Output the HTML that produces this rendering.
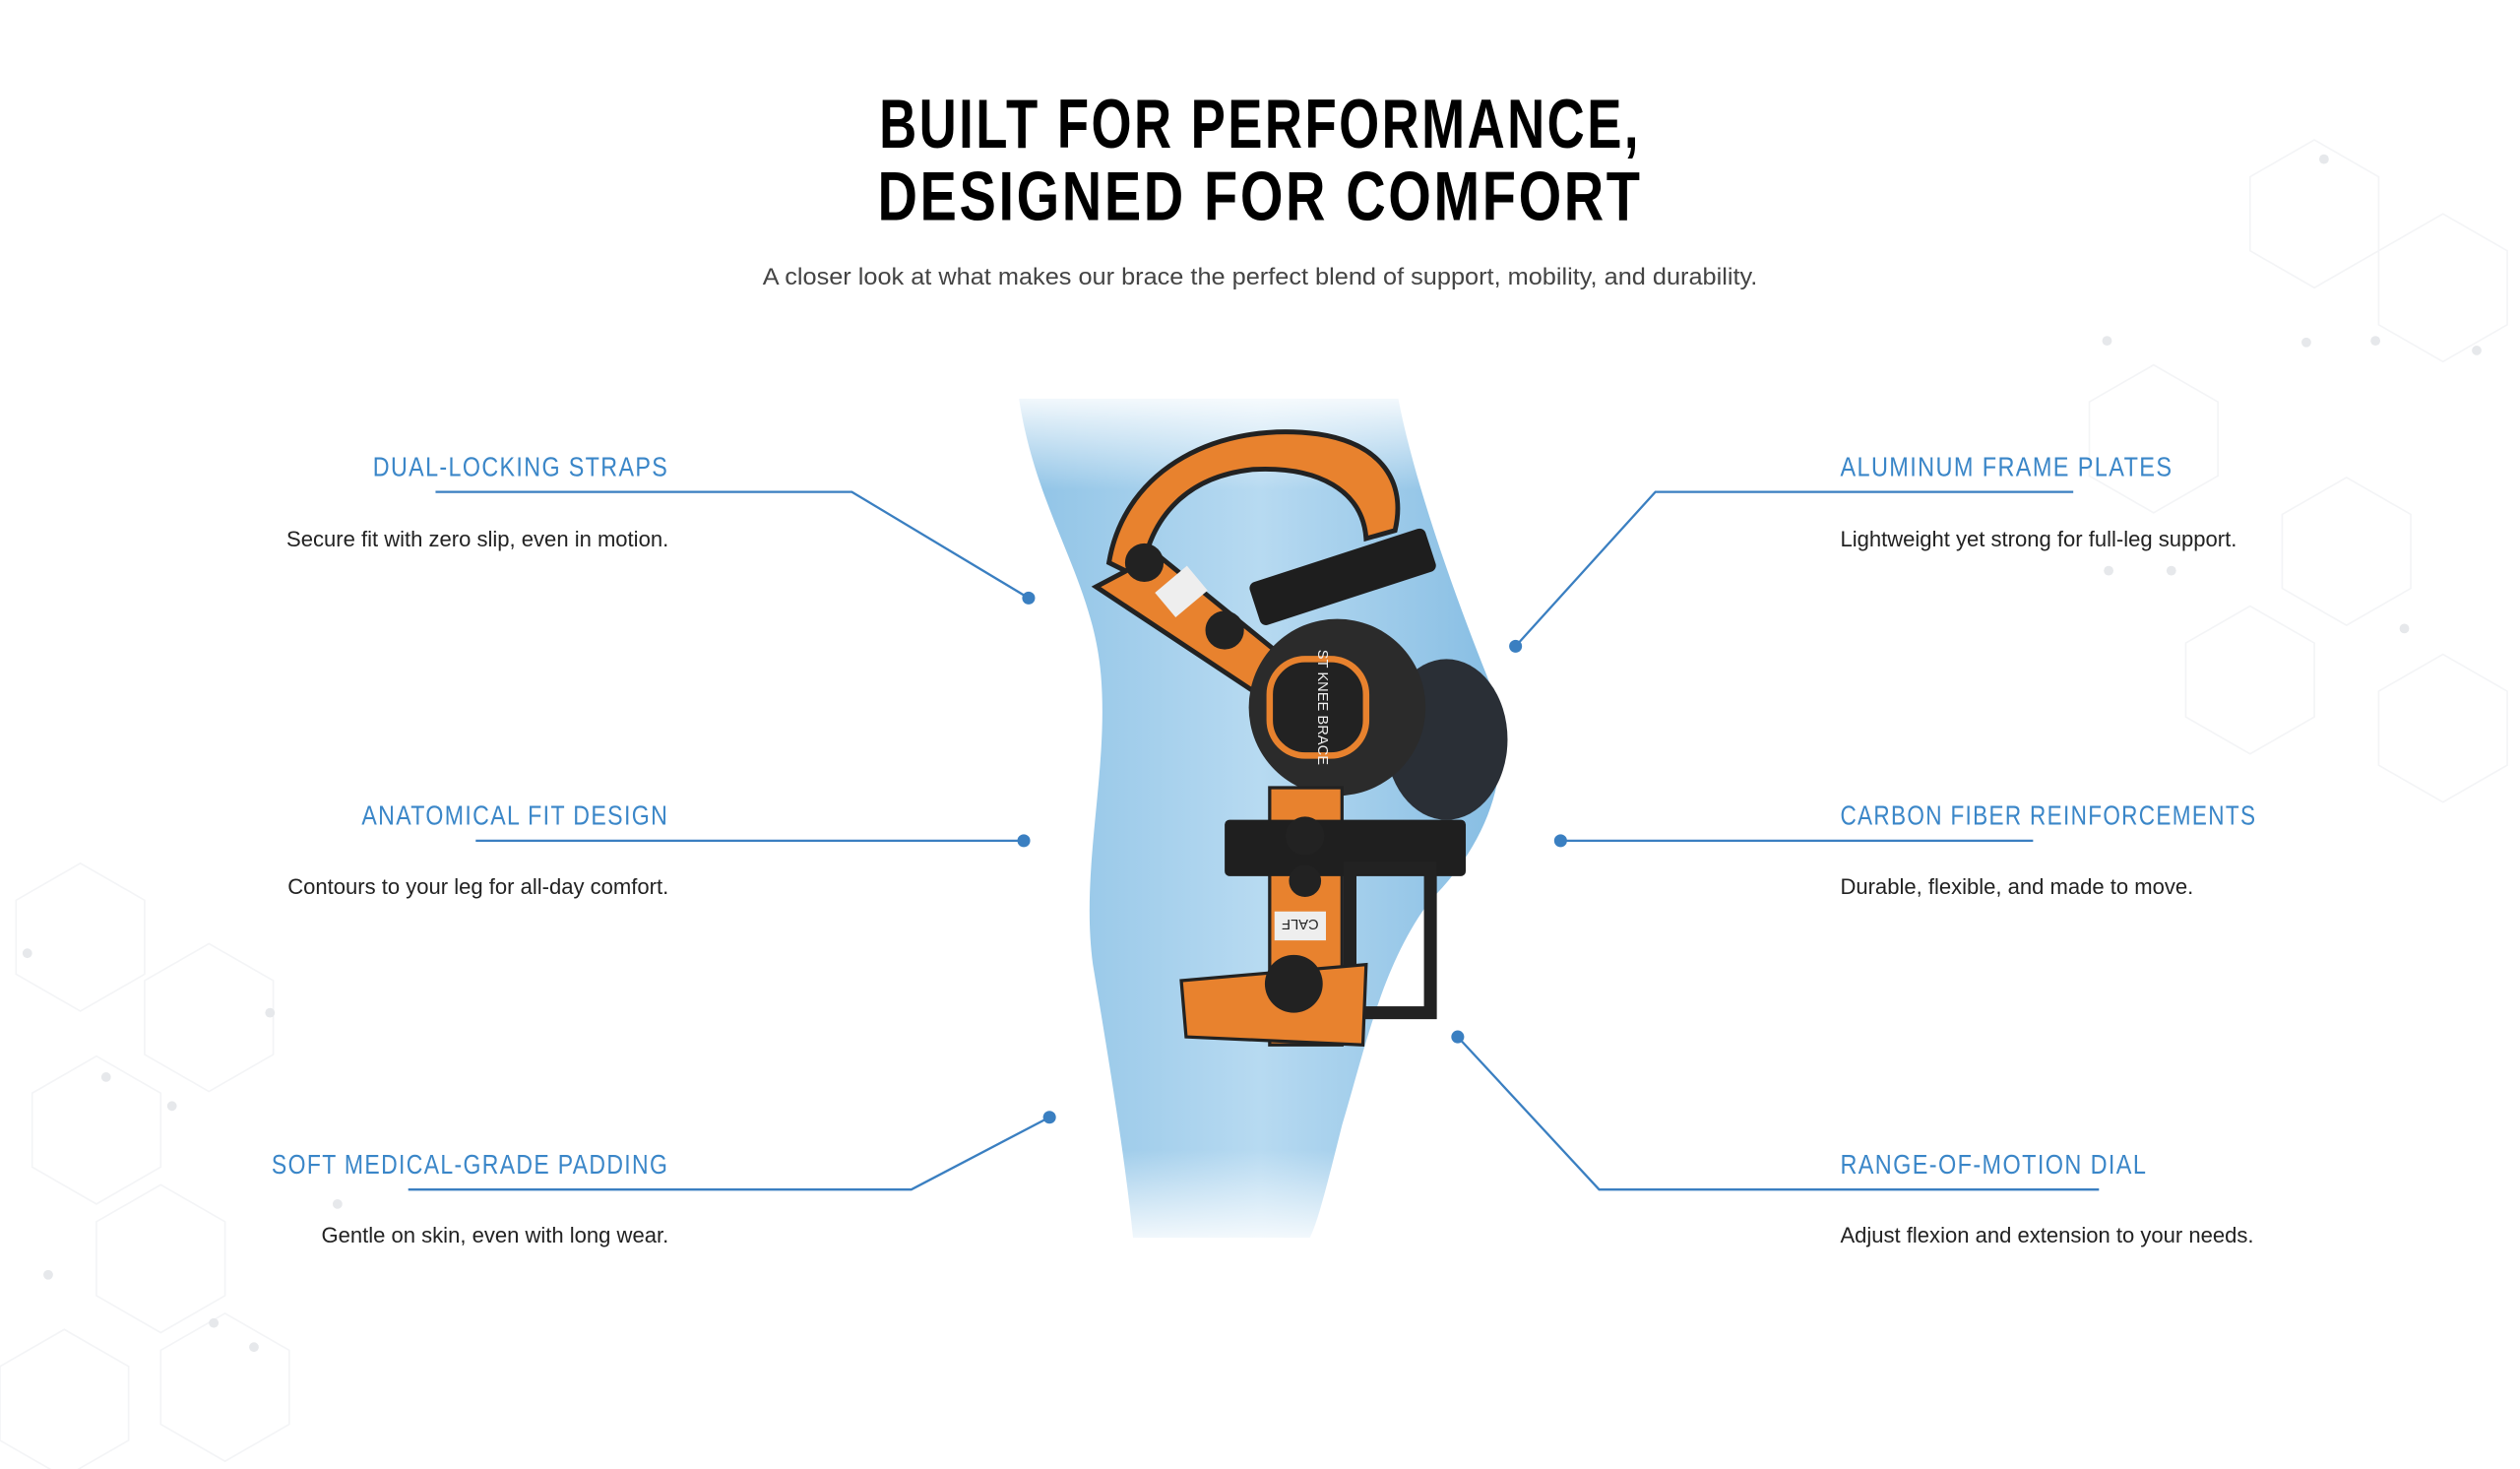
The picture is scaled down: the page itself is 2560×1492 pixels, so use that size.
<!DOCTYPE html>
<html><head><meta charset="utf-8"><style>
html,body{margin:0;padding:0;background:#fff;}
svg{display:block}
.h{font-family:"Liberation Sans",sans-serif;font-size:17px;fill:#3a86c8;letter-spacing:1px}
.d{font-family:"Liberation Sans",sans-serif;font-size:13.5px;fill:#222}
</style></head><body>
<svg width="2560" height="1492" viewBox="0 0 2560 1492" xmlns="http://www.w3.org/2000/svg">
<defs>
<linearGradient id="leg" x1="0" y1="0" x2="1" y2="0">
<stop offset="0" stop-color="#8fc3e6"/><stop offset="0.5" stop-color="#b7daf1"/><stop offset="1" stop-color="#86bde3"/></linearGradient>
<linearGradient id="fade" x1="0" y1="0" x2="0" y2="1">
<stop offset="0" stop-color="#fff" stop-opacity="1"/><stop offset="0.12" stop-color="#fff" stop-opacity="0"/><stop offset="0.88" stop-color="#fff" stop-opacity="0"/><stop offset="1" stop-color="#fff" stop-opacity="1"/></linearGradient>
</defs>
<g transform="scale(1.6327)">
<g stroke="#f3f4f6" fill="none" stroke-width="1">
<path d="M1400 110 l40 -23 l40 23 v46 l-40 23 l-40 -23z M1480 156 l40 -23 l40 23 v46 l-40 23 l-40 -23z M1300 250 l40 -23 l40 23 v46 l-40 23 l-40 -23z M1420 320 l40 -23 l40 23 v46 l-40 23 l-40 -23z M1480 430 l40 -23 l40 23 v46 l-40 23 l-40 -23z M1360 400 l40 -23 l40 23 v46 l-40 23 l-40 -23z"/>
<path d="M10 560 l40 -23 l40 23 v46 l-40 23 l-40 -23z M90 610 l40 -23 l40 23 v46 l-40 23 l-40 -23z M20 680 l40 -23 l40 23 v46 l-40 23 l-40 -23z M60 760 l40 -23 l40 23 v46 l-40 23 l-40 -23z M100 840 l40 -23 l40 23 v46 l-40 23 l-40 -23z M0 850 l40 -23 l40 23 v46 l-40 23 l-40 -23z"/>
</g>
<g fill="#e6e8eb">
<circle cx="1446" cy="99" r="3"/><circle cx="1311" cy="212" r="3"/><circle cx="1435" cy="213" r="3"/><circle cx="1478" cy="212" r="3"/><circle cx="1541" cy="218" r="3"/><circle cx="1312" cy="355" r="3"/><circle cx="1351" cy="355" r="3"/><circle cx="1496" cy="391" r="3"/>
<circle cx="17" cy="593" r="3"/><circle cx="168" cy="630" r="3"/><circle cx="66" cy="670" r="3"/><circle cx="107" cy="688" r="3"/><circle cx="30" cy="793" r="3"/><circle cx="133" cy="823" r="3"/><circle cx="158" cy="838" r="3"/><circle cx="210" cy="749" r="3"/>
</g>

<text x="784" y="92" text-anchor="middle" font-family="Liberation Sans, sans-serif" font-weight="bold" font-size="43" letter-spacing="2" textLength="474" lengthAdjust="spacingAndGlyphs">BUILT FOR PERFORMANCE,</text>
<text x="784" y="137" text-anchor="middle" font-family="Liberation Sans, sans-serif" font-weight="bold" font-size="43" letter-spacing="2" textLength="476" lengthAdjust="spacingAndGlyphs">DESIGNED FOR COMFORT</text>
<text x="784" y="177" text-anchor="middle" font-family="Liberation Sans, sans-serif" font-size="14.5" fill="#444" textLength="619" lengthAdjust="spacingAndGlyphs">A closer look at what makes our brace the perfect blend of support, mobility, and durability.</text>

<path d="M634 248 L870 248 C880 300 905 370 925 420 C945 470 930 520 890 560 C860 600 850 650 835 700 C825 740 820 760 815 770 L705 770 C700 720 690 660 680 600 C672 540 690 480 685 420 C680 360 645 320 634 248Z" fill="url(#leg)"/>
<rect x="620" y="240" width="330" height="540" fill="url(#fade)"/>
<path d="M690 350 C700 290 760 262 820 270 C860 276 875 300 868 330 L850 335 C848 305 820 290 780 292 C740 296 715 320 710 360Z" fill="#e8822e" stroke="#222" stroke-width="3"/>
<path d="M682 365 L720 345 L800 410 L780 430Z" fill="#e8822e" stroke="#222" stroke-width="3"/>
<rect x="778" y="345" width="115" height="28" rx="4" fill="#1e1e1e" transform="rotate(-18 835 359)"/>
<circle cx="712" cy="350" r="12" fill="#222"/><circle cx="762" cy="392" r="12" fill="#222"/>
<rect x="722" y="358" width="26" height="20" fill="#eee" transform="rotate(-40 735 368)"/>
<ellipse cx="900" cy="460" rx="38" ry="50" fill="#2a2f36"/>
<circle cx="832" cy="440" r="55" fill="#2b2b2b"/>
<rect x="790" y="410" width="60" height="60" rx="22" fill="#222" stroke="#e8822e" stroke-width="4"/>
<text x="820" y="440" font-family="Liberation Sans, sans-serif" font-size="9" fill="#eee" transform="rotate(90 820 440)" text-anchor="middle">ST KNEE BRACE</text>
<rect x="790" y="490" width="45" height="160" fill="#e8822e" stroke="#222" stroke-width="2"/>
<rect x="762" y="510" width="150" height="35" rx="3" fill="#1f1f1f"/>
<rect x="840" y="540" width="50" height="90" fill="none" stroke="#222" stroke-width="8"/>
<path d="M735 610 L850 600 L848 650 L738 645Z" fill="#e8822e" stroke="#222" stroke-width="2"/>
<circle cx="812" cy="520" r="12" fill="#222"/><circle cx="812" cy="548" r="10" fill="#222"/><circle cx="805" cy="612" r="18" fill="#222"/>
<rect x="793" y="567" width="32" height="18" fill="#eee"/>
<text x="809" y="580" font-family="Liberation Sans, sans-serif" font-size="9" fill="#222" text-anchor="middle" transform="rotate(180 809 576)">CALF</text>

<g stroke="#3a7fc1" stroke-width="1.4" fill="none">
<polyline points="271,306 530,306 640,372"/>
<polyline points="296,523 637,523"/>
<polyline points="254,740 567,740 653,695"/>
<polyline points="1290,306 1030,306 943,402"/>
<polyline points="1265,523 971,523"/>
<polyline points="1306,740 995,740 907,645"/>
</g>
<g fill="#3a7fc1">
<circle cx="640" cy="372" r="4"/><circle cx="637" cy="523" r="4"/><circle cx="653" cy="695" r="4"/>
<circle cx="943" cy="402" r="4"/><circle cx="971" cy="523" r="4"/><circle cx="907" cy="645" r="4"/>
</g>

<text class="h" x="232" y="296" textLength="184" lengthAdjust="spacingAndGlyphs">DUAL-LOCKING STRAPS</text>
<text class="d" x="416" y="340" text-anchor="end">Secure fit with zero slip, even in motion.</text>
<text class="h" x="225" y="513" textLength="191" lengthAdjust="spacingAndGlyphs">ANATOMICAL FIT DESIGN</text>
<text class="d" x="416" y="556" text-anchor="end">Contours to your leg for all-day comfort.</text>
<text class="h" x="169" y="730" textLength="247" lengthAdjust="spacingAndGlyphs">SOFT MEDICAL-GRADE PADDING</text>
<text class="d" x="416" y="773" text-anchor="end">Gentle on skin, even with long wear.</text>

<text class="h" x="1145" y="296" textLength="207" lengthAdjust="spacingAndGlyphs">ALUMINUM FRAME PLATES</text>
<text class="d" x="1145" y="340">Lightweight yet strong for full-leg support.</text>
<text class="h" x="1145" y="513" textLength="259" lengthAdjust="spacingAndGlyphs">CARBON FIBER REINFORCEMENTS</text>
<text class="d" x="1145" y="556">Durable, flexible, and made to move.</text>
<text class="h" x="1145" y="730" textLength="191" lengthAdjust="spacingAndGlyphs">RANGE-OF-MOTION DIAL</text>
<text class="d" x="1145" y="773">Adjust flexion and extension to your needs.</text>
</g>
</svg>
</body></html>
